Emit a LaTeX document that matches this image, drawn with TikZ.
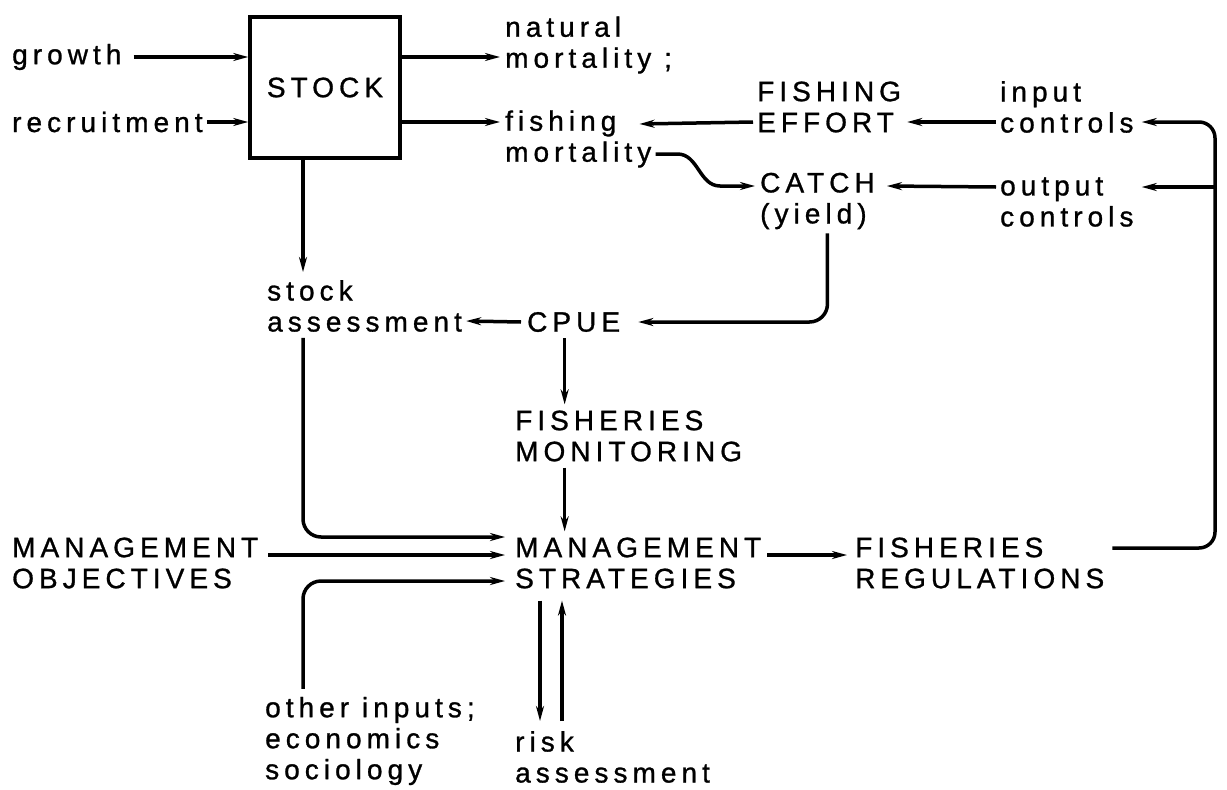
\documentclass[tikz,border=0pt]{standalone}
\usepackage{fontspec}
\setmainfont{Liberation Sans}[LetterSpace=18,FakeBold=1]
\usetikzlibrary{arrows.meta,calc}
\begin{document}
\begin{tikzpicture}[x=1pt,y=-1pt,
  lbl/.style={anchor=west, inner sep=0pt, align=left, font=\fontsize{28}{31}\selectfont},
  arr/.style={line width=3.5pt, -{Stealth[length=15pt,width=8pt]}},
  ln/.style={line width=3.5pt}]
\useasboundingbox (0,0) rectangle (1227,790);
% nodes
\node[lbl] (grw) at (12,57) {growth};
\node[lbl] (rec) at (12,122) {recruitment};
\node[draw, line width=3.5pt, minimum width=150pt, minimum height=141pt, inner sep=0pt,
      font=\fontsize{28}{31}\selectfont] (stock) at (325,87.5) {STOCK};
\node[lbl] (nat) at (505,45) {natural\\mortality ;};
\node[lbl] (fm) at (505,139) {fishing\\mortality};
\node[lbl] (fe) at (757,107) {FISHING\\EFFORT};
\node[lbl] (catch) at (760,201) {CATCH\\(yield)};
\node[lbl] (ic) at (1000,107) {input\\controls};
\node[lbl] (oc) at (1000,202) {output\\controls};
\node[lbl] (sa) at (267,306) {stock\\assessment};
\node[lbl] (cpue) at (527,322) {CPUE};
\node[lbl] (fmon) at (515,436) {FISHERIES\\MONITORING};
\node[lbl] (mo) at (12,563) {MANAGEMENT\\OBJECTIVES};
\node[lbl] (ms) at (515,563) {MANAGEMENT\\STRATEGIES};
\node[lbl] (fr) at (855,563) {FISHERIES\\REGULATIONS};
\node[lbl] (oi) at (265,741) {other inputs;\\economics\\sociology};
\node[lbl] (ra) at (515,757) {risk\\assessment};
% helper coordinates
\coordinate (sv) at ([xshift=-22pt]stock.south);
\coordinate (cx) at ([xshift=-9pt]cpue.south);
\coordinate (rail) at (1215,0);
\coordinate (icin) at ([xshift=8pt,yshift=-15pt]ic.east);
\coordinate (ocin) at ([xshift=8pt,yshift=15pt]oc.east);
\coordinate (frout) at ([xshift=8pt,yshift=15pt]fr.east);
\coordinate (r1) at ([xshift=25pt]ms.south west);
\coordinate (r2) at ([xshift=47pt]ms.south west);
% connectors
\draw[arr] ([xshift=12pt]grw.east) -- (stock.west |- grw);
\draw[arr] ([xshift=4pt]rec.east) -- (stock.west |- rec);
\draw[arr] (stock.east |- grw) -- ([xshift=-5pt]nat.west |- grw);
\draw[arr] (stock.east |- rec) -- ([xshift=-5pt]fm.west |- rec);
\draw[arr] ([xshift=-4pt,yshift=-15pt]fe.west) -- ([xshift=-12pt,yshift=15pt]fm.east);
\draw[arr] ([xshift=4pt,yshift=-15pt]fm.east) -- ++(22,0)
  to[out=0,in=180] ([xshift=-40pt,yshift=15pt]catch.west) -- ([xshift=-5pt,yshift=15pt]catch.west);
\draw[arr] ([xshift=-4pt,yshift=-15pt]ic.west) -- ([xshift=6pt,yshift=-15pt]fe.east);
\draw[arr] ([xshift=-4pt,yshift=15pt]oc.west) -- ([xshift=12pt,yshift=15pt]catch.east);
\draw[arr, rounded corners=16pt] (frout) -- (rail |- frout) -- (rail |- icin) -- (icin);
\draw[arr] (rail |- ocin) -- (ocin);
\draw[arr, rounded corners=18pt] ([xshift=10pt,yshift=-4pt]catch.south) |- ([xshift=18pt]cpue.east);
\draw[arr] ([xshift=-6pt]cpue.west) -- ([xshift=4pt,yshift=-15pt]sa.east);
\draw[arr] (sv) -- ([yshift=8pt]sv |- sa.north);
\draw[arr, rounded corners=18pt] ([yshift=-6pt]sv |- sa.south) |- ([xshift=-10pt,yshift=26pt]ms.west);
\draw[arr] ([xshift=10pt,yshift=8pt]mo.east) -- ([xshift=-10pt,yshift=8pt]ms.west);
\draw[arr, rounded corners=18pt] ([yshift=8pt]sv |- oi.north) |- ([xshift=-10pt,yshift=-18pt]ms.west);
\draw[arr] ([yshift=-6pt]cx) -- ([yshift=6pt]cx |- fmon.north);
\draw[arr] ([yshift=-6pt]cx |- fmon.south) -- ([yshift=6pt]cx |- ms.north);
\draw[arr] ([xshift=6pt,yshift=8pt]ms.east) -- ([xshift=-8pt,yshift=8pt]fr.west);
\draw[arr] ([yshift=-12pt]r1) -- ([yshift=10pt]r1 |- ra.north);
\draw[arr] ([yshift=10pt]r2 |- ra.north) -- ([yshift=-12pt]r2);
\end{tikzpicture}
\end{document}
